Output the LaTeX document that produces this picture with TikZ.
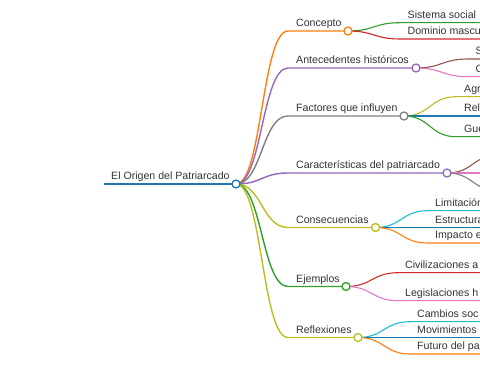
\documentclass[tikz,border=0pt]{standalone}
\usepackage{fontspec}
\setmainfont{Liberation Sans}
\usetikzlibrary{calc}
\definecolor{cblue}{HTML}{1F77B4}
\definecolor{corange}{HTML}{FF7F0E}
\definecolor{cgreen}{HTML}{2CA02C}
\definecolor{cred}{HTML}{D62728}
\definecolor{cpurple}{HTML}{9467BD}
\definecolor{cbrown}{HTML}{8C564B}
\definecolor{cpink}{HTML}{E377C2}
\definecolor{cgray}{HTML}{7F7F7F}
\definecolor{colive}{HTML}{BCBD22}
\definecolor{ccyan}{HTML}{17BECF}
\definecolor{ctext}{HTML}{333333}
\tikzset{
  lab/.style={anchor=base west, inner sep=0pt, text=ctext, font=\fontsize{10.6}{12}\selectfont},
  dotnode/.style={circle, draw=#1, fill=white, line width=1.3pt, minimum size=8pt, inner sep=0pt},
  lvzero/.style={line width=1.8pt},
  lvone/.style={line width=1.4pt},
  lvtwo/.style={line width=1.1pt},
}
\newcommand\mmlink[4]{% style, from, start, end
  \path (#2) coordinate (tmpA) (#3) coordinate (tmpB);
  \coordinate (tmpM) at ($(tmpA)!.5!(tmpB)$);
  \draw[#1] (tmpA) .. controls (tmpM |- tmpA) and (tmpM |- tmpB) .. (tmpB) -- (#4);}
\begin{document}
\begin{tikzpicture}[x=1pt,y=-1pt]
\clip (0,0) rectangle (480,379);
\useasboundingbox (0,0) rectangle (480,379);
% root
\coordinate (rs) at (104,184);
\node[lab] (rt) at (111,180) {El Origen del Patriarcado};
\coordinate (rc0) at (236,184);
\draw[lvzero, cblue] (rs) -- (rc0);
% level-1 starts and circles
\coordinate (s1) at (288,31);    \coordinate (p1) at (348,31);
\coordinate (s2) at (288,68);    \coordinate (p2) at (416,68);
\coordinate (s3) at (288,116);   \coordinate (p3) at (404,116);
\coordinate (s4) at (288,173);   \coordinate (p4) at (447,173);
\coordinate (s5) at (288,227.5); \coordinate (p5) at (375.5,227.5);
\coordinate (s6) at (288,286.5); \coordinate (p6) at (346,286.5);
\coordinate (s7) at (288,337.5); \coordinate (p7) at (358,337.5);
\mmlink{lvone,corange}{rc0}{s1}{p1}
\mmlink{lvone,cpurple}{rc0}{s2}{p2}
\mmlink{lvone,cgray}{rc0}{s3}{p3}
\mmlink{lvone,cpurple}{rc0}{s4}{p4}
\mmlink{lvone,colive}{rc0}{s5}{p5}
\mmlink{lvone,cgreen}{rc0}{s6}{p6}
\mmlink{lvone,colive}{rc0}{s7}{p7}
\node[lab] (t1) at (296,27) {Concepto};
\node[lab] (t2) at (296,64) {Antecedentes históricos};
\node[lab] (t3) at (296,112) {Factores que influyen};
\node[lab] (t4) at (296,169) {Características del patriarcado};
\node[lab] (t5) at (296,223.5) {Consecuencias};
\node[lab] (t6) at (296,282.5) {Ejemplos};
\node[lab] (t7) at (296,333.5) {Reflexiones};
% level-2: Concepto
\coordinate (a1) at (400,22.7); \coordinate (b1) at (490,22.7);
\coordinate (a2) at (400,39);   \coordinate (b2) at (490,39);
\mmlink{lvtwo,cgreen}{p1}{a1}{b1}
\mmlink{lvtwo,cred}{p1}{a2}{b2}
\node[lab] (u1) at (407.5,18.7) {Sistema social};
\node[lab] (u2) at (407.5,35) {Dominio mascu};
% Antecedentes
\coordinate (a3) at (468,59);   \coordinate (b3) at (490,59);
\coordinate (a4) at (468,76.7); \coordinate (b4) at (490,76.7);
\mmlink{lvtwo,cbrown}{p2}{a3}{b3}
\mmlink{lvtwo,cpink}{p2}{a4}{b4}
\node[lab] (u3) at (475.5,55) {S};
\node[lab] (u4) at (475.5,72.7) {C};
% Factores
\coordinate (a5) at (456,96.7);  \coordinate (b5) at (490,96.7);
\coordinate (a6) at (456,116);   \coordinate (b6) at (490,116);
\coordinate (a7) at (456,136.7); \coordinate (b7) at (490,136.7);
\mmlink{lvtwo,colive}{p3}{a5}{b5}
\mmlink{lvtwo,cblue}{p3}{a6}{b6}
\mmlink{lvtwo,cgreen}{p3}{a7}{b7}
\node[lab] (u5) at (464,92.7) {Agr};
\node[lab] (u6) at (464,112) {Rel};
\node[lab] (u7) at (464,132.7) {Gue};
% Caracteristicas
\coordinate (a8) at (499,155);  \coordinate (b8) at (510,155);
\coordinate (a9) at (499,173);  \coordinate (b9) at (510,173);
\coordinate (a10) at (499,191); \coordinate (b10) at (510,191);
\mmlink{lvtwo,cbrown}{p4}{a8}{b8}
\mmlink{lvtwo,cpink}{p4}{a9}{b9}
\mmlink{lvtwo,cgray}{p4}{a10}{b10}
% Consecuencias
\coordinate (a11) at (427.5,210.7); \coordinate (b11) at (490,210.7);
\coordinate (a12) at (427.5,227.5); \coordinate (b12) at (490,227.5);
\coordinate (a13) at (427.5,243);   \coordinate (b13) at (490,243);
\mmlink{lvtwo,ccyan}{p5}{a11}{b11}
\mmlink{lvtwo,cblue}{p5}{a12}{b12}
\mmlink{lvtwo,corange}{p5}{a13}{b13}
\node[lab] (u11) at (435,206.7) {Limitación};
\node[lab] (u12) at (435,223.5) {Estructura};
\node[lab] (u13) at (435,239) {Impacto e};
% Ejemplos
\coordinate (a14) at (398,272.7); \coordinate (b14) at (490,272.7);
\coordinate (a15) at (398,300.7); \coordinate (b15) at (490,300.7);
\mmlink{lvtwo,cred}{p6}{a14}{b14}
\mmlink{lvtwo,cpink}{p6}{a15}{b15}
\node[lab] (u14) at (405,268.7) {Civilizaciones a};
\node[lab] (u15) at (405,296.7) {Legislaciones h};
% Reflexiones
\coordinate (a16) at (410,321.7); \coordinate (b16) at (490,321.7);
\coordinate (a17) at (410,337.5); \coordinate (b17) at (490,337.5);
\coordinate (a18) at (410,354);   \coordinate (b18) at (490,354);
\mmlink{lvtwo,ccyan}{p7}{a16}{b16}
\mmlink{lvtwo,cblue}{p7}{a17}{b17}
\mmlink{lvtwo,corange}{p7}{a18}{b18}
\node[lab] (u16) at (417,317.7) {Cambios soc};
\node[lab] (u17) at (417,333.5) {Movimientos};
\node[lab] (u18) at (417,350) {Futuro del pa};
% circles
\node[dotnode=cblue] (rc) at (rc0) {};
\node[dotnode=corange] (c1) at (p1) {};
\node[dotnode=cpurple] (c2) at (p2) {};
\node[dotnode=cgray] (c3) at (p3) {};
\node[dotnode=cpurple] (c4) at (p4) {};
\node[dotnode=colive] (c5) at (p5) {};
\node[dotnode=cgreen] (c6) at (p6) {};
\node[dotnode=colive] (c7) at (p7) {};
\end{tikzpicture}
\end{document}
